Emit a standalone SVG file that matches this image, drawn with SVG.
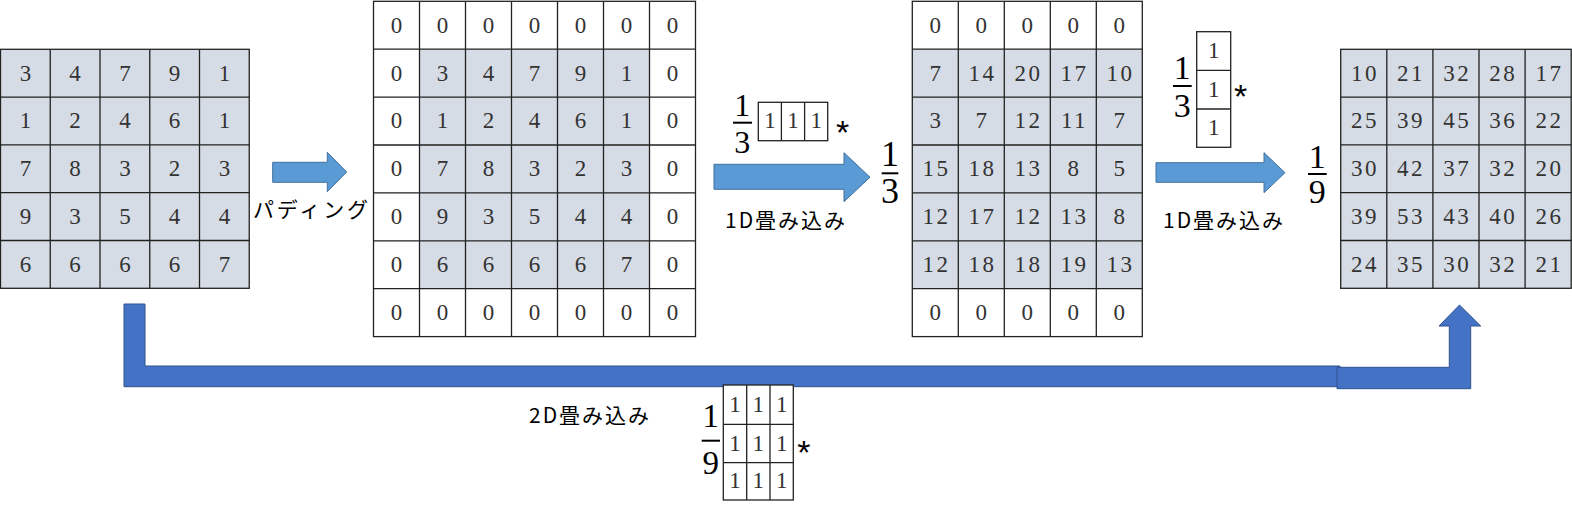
<svg xmlns="http://www.w3.org/2000/svg" width="1572" height="511" viewBox="0 0 1572 511">
<style>
.bg{fill:#fff}
.sh{fill:#D6DCE5}
.gl{fill:none;stroke:#222;stroke-width:1.3}
.n{font-family:"Liberation Serif",serif;font-size:23px;fill:#333;text-anchor:middle;letter-spacing:2.5px;transform:translateX(1.25px)}
.fr{font-family:"Liberation Serif",serif;fill:#000;text-anchor:middle}
.bar{stroke:#000;stroke-width:2}
.lb{font-family:"Noto Sans CJK JP",sans-serif;font-size:21px;fill:#000;letter-spacing:2px}
.ast{font-family:"Liberation Sans",sans-serif;font-size:34px;fill:#000;text-anchor:middle}
.ar{fill:#5B9BD5;stroke:#41719C;stroke-width:1}
.ar2{fill:#4472C4;stroke:#2F528F;stroke-width:1}
</style>
<g id="connectors">
<polygon class="ar" points="272.7,162.3 327.3,162.3 327.3,152.3 346.7,172 327.3,191.7 327.3,182.3 272.7,182.3"/>
<polygon class="ar" points="714,164.3 844,164.3 844,152.7 870,177.2 844,201.7 844,189.3 714,189.3"/>
<polygon class="ar" points="1156,162.7 1264,162.7 1264,152.7 1285,172.7 1264,192.7 1264,182.3 1156,182.3"/>
<polygon class="ar2" points="124,304 145,304 145,366 1340,366 1340,386.7 124,386.7"/>
<polygon class="ar2" points="1337,367.3 1449.3,367.3 1449.3,326 1439,326 1459.5,305 1480.7,326 1470.7,326 1470.7,388.7 1337,388.7"/>
</g>
<g id="label-padding"><text class="lb" x="253" y="217" textLength="117" lengthAdjust="spacing">パディング</text></g>
<g id="label-1d-a"><text class="lb" x="725" y="228">1D畳み込み</text></g>
<g id="label-1d-b"><text class="lb" x="1163" y="228">1D畳み込み</text></g>
<g id="label-2d"><text class="lb" x="529" y="423">2D畳み込み</text></g>

<g id="grid-input">
<rect class="sh" x="0.5" y="49.3" width="248.75" height="239"/>
<rect class="gl" x="0.5" y="49.3" width="248.75" height="239"/>
<path class="gl" d="M50.25 49.3V288.3M100 49.3V288.3M149.75 49.3V288.3M199.5 49.3V288.3M0.5 97.1H249.25M0.5 144.9H249.25M0.5 192.7H249.25M0.5 240.5H249.25"/>
<text class="n" x="25.4" y="80.5">3</text><text class="n" x="75.1" y="80.5">4</text><text class="n" x="124.9" y="80.5">7</text><text class="n" x="174.6" y="80.5">9</text><text class="n" x="224.4" y="80.5">1</text>
<text class="n" x="25.4" y="128.3">1</text><text class="n" x="75.1" y="128.3">2</text><text class="n" x="124.9" y="128.3">4</text><text class="n" x="174.6" y="128.3">6</text><text class="n" x="224.4" y="128.3">1</text>
<text class="n" x="25.4" y="176.1">7</text><text class="n" x="75.1" y="176.1">8</text><text class="n" x="124.9" y="176.1">3</text><text class="n" x="174.6" y="176.1">2</text><text class="n" x="224.4" y="176.1">3</text>
<text class="n" x="25.4" y="223.9">9</text><text class="n" x="75.1" y="223.9">3</text><text class="n" x="124.9" y="223.9">5</text><text class="n" x="174.6" y="223.9">4</text><text class="n" x="224.4" y="223.9">4</text>
<text class="n" x="25.4" y="271.7">6</text><text class="n" x="75.1" y="271.7">6</text><text class="n" x="124.9" y="271.7">6</text><text class="n" x="174.6" y="271.7">6</text><text class="n" x="224.4" y="271.7">7</text>
</g>

<g id="grid-padded">
<rect class="bg" x="373.5" y="1.3" width="322" height="335.3"/>
<rect class="sh" x="419.5" y="49.2" width="230" height="239.5"/>
<rect class="gl" x="373.5" y="1.3" width="322" height="335.3"/>
<path class="gl" d="M419.5 1.3V336.6M465.5 1.3V336.6M511.5 1.3V336.6M557.5 1.3V336.6M603.5 1.3V336.6M649.5 1.3V336.6M373.5 49.2H695.5M373.5 97.1H695.5M373.5 145H695.5M373.5 192.9H695.5M373.5 240.8H695.5M373.5 288.7H695.5"/>
<text class="n" x="396.5" y="32.6">0</text><text class="n" x="442.5" y="32.6">0</text><text class="n" x="488.5" y="32.6">0</text><text class="n" x="534.5" y="32.6">0</text><text class="n" x="580.5" y="32.6">0</text><text class="n" x="626.5" y="32.6">0</text><text class="n" x="672.5" y="32.6">0</text>
<text class="n" x="396.5" y="80.5">0</text><text class="n" x="442.5" y="80.5">3</text><text class="n" x="488.5" y="80.5">4</text><text class="n" x="534.5" y="80.5">7</text><text class="n" x="580.5" y="80.5">9</text><text class="n" x="626.5" y="80.5">1</text><text class="n" x="672.5" y="80.5">0</text>
<text class="n" x="396.5" y="128.4">0</text><text class="n" x="442.5" y="128.4">1</text><text class="n" x="488.5" y="128.4">2</text><text class="n" x="534.5" y="128.4">4</text><text class="n" x="580.5" y="128.4">6</text><text class="n" x="626.5" y="128.4">1</text><text class="n" x="672.5" y="128.4">0</text>
<text class="n" x="396.5" y="176.3">0</text><text class="n" x="442.5" y="176.3">7</text><text class="n" x="488.5" y="176.3">8</text><text class="n" x="534.5" y="176.3">3</text><text class="n" x="580.5" y="176.3">2</text><text class="n" x="626.5" y="176.3">3</text><text class="n" x="672.5" y="176.3">0</text>
<text class="n" x="396.5" y="224.2">0</text><text class="n" x="442.5" y="224.2">9</text><text class="n" x="488.5" y="224.2">3</text><text class="n" x="534.5" y="224.2">5</text><text class="n" x="580.5" y="224.2">4</text><text class="n" x="626.5" y="224.2">4</text><text class="n" x="672.5" y="224.2">0</text>
<text class="n" x="396.5" y="272.1">0</text><text class="n" x="442.5" y="272.1">6</text><text class="n" x="488.5" y="272.1">6</text><text class="n" x="534.5" y="272.1">6</text><text class="n" x="580.5" y="272.1">6</text><text class="n" x="626.5" y="272.1">7</text><text class="n" x="672.5" y="272.1">0</text>
<text class="n" x="396.5" y="320">0</text><text class="n" x="442.5" y="320">0</text><text class="n" x="488.5" y="320">0</text><text class="n" x="534.5" y="320">0</text><text class="n" x="580.5" y="320">0</text><text class="n" x="626.5" y="320">0</text><text class="n" x="672.5" y="320">0</text>
</g>

<g id="grid-1d">
<rect class="bg" x="912.3" y="1.3" width="230" height="335.3"/>
<rect class="sh" x="912.3" y="49.2" width="230" height="239.5"/>
<rect class="gl" x="912.3" y="1.3" width="230" height="335.3"/>
<path class="gl" d="M958.3 1.3V336.6M1004.3 1.3V336.6M1050.3 1.3V336.6M1096.3 1.3V336.6M912.3 49.2H1142.3M912.3 97.1H1142.3M912.3 145H1142.3M912.3 192.9H1142.3M912.3 240.8H1142.3M912.3 288.7H1142.3"/>
<text class="n" x="935.3" y="32.6">0</text><text class="n" x="981.3" y="32.6">0</text><text class="n" x="1027.3" y="32.6">0</text><text class="n" x="1073.3" y="32.6">0</text><text class="n" x="1119.3" y="32.6">0</text>
<text class="n" x="935.3" y="80.5">7</text><text class="n" x="981.3" y="80.5">14</text><text class="n" x="1027.3" y="80.5">20</text><text class="n" x="1073.3" y="80.5">17</text><text class="n" x="1119.3" y="80.5">10</text>
<text class="n" x="935.3" y="128.4">3</text><text class="n" x="981.3" y="128.4">7</text><text class="n" x="1027.3" y="128.4">12</text><text class="n" x="1073.3" y="128.4">11</text><text class="n" x="1119.3" y="128.4">7</text>
<text class="n" x="935.3" y="176.3">15</text><text class="n" x="981.3" y="176.3">18</text><text class="n" x="1027.3" y="176.3">13</text><text class="n" x="1073.3" y="176.3">8</text><text class="n" x="1119.3" y="176.3">5</text>
<text class="n" x="935.3" y="224.2">12</text><text class="n" x="981.3" y="224.2">17</text><text class="n" x="1027.3" y="224.2">12</text><text class="n" x="1073.3" y="224.2">13</text><text class="n" x="1119.3" y="224.2">8</text>
<text class="n" x="935.3" y="272.1">12</text><text class="n" x="981.3" y="272.1">18</text><text class="n" x="1027.3" y="272.1">18</text><text class="n" x="1073.3" y="272.1">19</text><text class="n" x="1119.3" y="272.1">13</text>
<text class="n" x="935.3" y="320">0</text><text class="n" x="981.3" y="320">0</text><text class="n" x="1027.3" y="320">0</text><text class="n" x="1073.3" y="320">0</text><text class="n" x="1119.3" y="320">0</text>
</g>

<g id="grid-output">
<rect class="sh" x="1340.7" y="49.3" width="230.5" height="239"/>
<rect class="gl" x="1340.7" y="49.3" width="230.5" height="239"/>
<path class="gl" d="M1386.8 49.3V288.3M1432.9 49.3V288.3M1479 49.3V288.3M1525.1 49.3V288.3M1340.7 97.1H1571.2M1340.7 144.9H1571.2M1340.7 192.7H1571.2M1340.7 240.5H1571.2"/>
<text class="n" x="1363.75" y="80.5">10</text><text class="n" x="1409.85" y="80.5">21</text><text class="n" x="1455.95" y="80.5">32</text><text class="n" x="1502.05" y="80.5">28</text><text class="n" x="1548.15" y="80.5">17</text>
<text class="n" x="1363.75" y="128.3">25</text><text class="n" x="1409.85" y="128.3">39</text><text class="n" x="1455.95" y="128.3">45</text><text class="n" x="1502.05" y="128.3">36</text><text class="n" x="1548.15" y="128.3">22</text>
<text class="n" x="1363.75" y="176.1">30</text><text class="n" x="1409.85" y="176.1">42</text><text class="n" x="1455.95" y="176.1">37</text><text class="n" x="1502.05" y="176.1">32</text><text class="n" x="1548.15" y="176.1">20</text>
<text class="n" x="1363.75" y="223.9">39</text><text class="n" x="1409.85" y="223.9">53</text><text class="n" x="1455.95" y="223.9">43</text><text class="n" x="1502.05" y="223.9">40</text><text class="n" x="1548.15" y="223.9">26</text>
<text class="n" x="1363.75" y="271.7">24</text><text class="n" x="1409.85" y="271.7">35</text><text class="n" x="1455.95" y="271.7">30</text><text class="n" x="1502.05" y="271.7">32</text><text class="n" x="1548.15" y="271.7">21</text>
</g>

<g id="kernel-h">
<text class="fr" x="742.3" y="116" font-size="32">1</text>
<line class="bar" x1="733" y1="122.7" x2="752" y2="122.7"/>
<text class="fr" x="742.3" y="152.5" font-size="32">3</text>
<rect class="bg" x="758.3" y="102.3" width="69.4" height="38.4"/>
<rect class="gl" x="758.3" y="102.3" width="69.4" height="38.4"/>
<path class="gl" d="M781.4 102.3V140.7M804.6 102.3V140.7"/>
<text class="n" x="769.9" y="128">1</text><text class="n" x="793" y="128">1</text><text class="n" x="816.2" y="128">1</text>
<text class="ast" x="842.5" y="144">*</text>
</g>

<g id="factor-1-3">
<text class="fr" x="890" y="166" font-size="36">1</text>
<line class="bar" x1="881.7" y1="173.3" x2="898.3" y2="173.3"/>
<text class="fr" x="890" y="203" font-size="36">3</text>
</g>

<g id="kernel-v">
<text class="fr" x="1182.3" y="78.5" font-size="34">1</text>
<line class="bar" x1="1173" y1="86" x2="1191.7" y2="86"/>
<text class="fr" x="1182.3" y="116.5" font-size="34">3</text>
<rect class="bg" x="1196.7" y="31.7" width="34" height="115.6"/>
<rect class="gl" x="1196.7" y="31.7" width="34" height="115.6"/>
<path class="gl" d="M1196.7 70.3H1230.7M1196.7 109H1230.7"/>
<text class="n" x="1213.7" y="58">1</text><text class="n" x="1213.7" y="96.6">1</text><text class="n" x="1213.7" y="135">1</text>
<text class="ast" x="1240.5" y="108">*</text>
</g>

<g id="factor-1-9">
<text class="fr" x="1317.3" y="168" font-size="34">1</text>
<line class="bar" x1="1308" y1="174" x2="1326.7" y2="174"/>
<text class="fr" x="1317.3" y="203" font-size="34">9</text>
</g>

<g id="kernel-2d">
<text class="fr" x="710.8" y="427" font-size="33">1</text>
<line class="bar" x1="701.7" y1="440.7" x2="720" y2="440.7"/>
<text class="fr" x="710.8" y="473.5" font-size="33">9</text>
<rect class="bg" x="723.3" y="385" width="70" height="115"/>
<rect class="gl" x="723.3" y="385" width="70" height="115"/>
<path class="gl" d="M746.7 385V500M770 385V500M723.3 424.3H793.3M723.3 462.7H793.3"/>
<text class="n" x="735" y="411.5">1</text><text class="n" x="758.3" y="411.5">1</text><text class="n" x="781.7" y="411.5">1</text>
<text class="n" x="735" y="450.5">1</text><text class="n" x="758.3" y="450.5">1</text><text class="n" x="781.7" y="450.5">1</text>
<text class="n" x="735" y="488.3">1</text><text class="n" x="758.3" y="488.3">1</text><text class="n" x="781.7" y="488.3">1</text>
<text class="ast" x="803.8" y="464">*</text>
</g>
</svg>
